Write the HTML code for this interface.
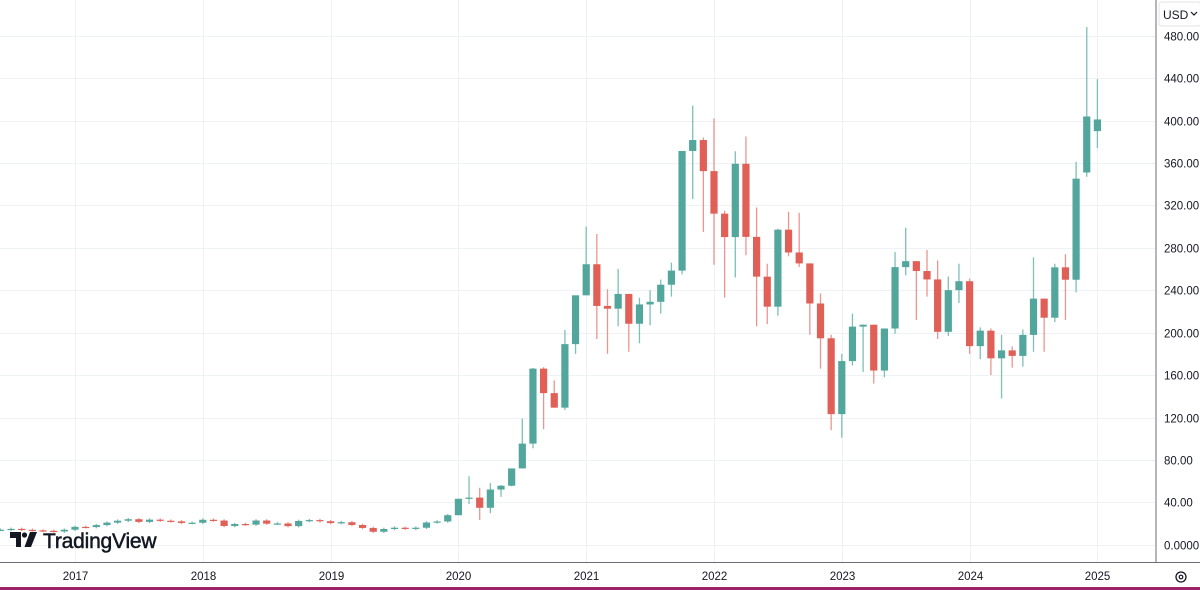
<!DOCTYPE html>
<html><head><meta charset="utf-8"><style>
html,body{margin:0;padding:0;background:#fff;}
body{width:1200px;height:590px;overflow:hidden;font-family:"Liberation Sans",sans-serif;}
svg{display:block}
</style></head><body>
<svg id="c" width="1200" height="590" xmlns="http://www.w3.org/2000/svg" font-family="Liberation Sans, sans-serif">
<rect width="1200" height="590" fill="#fff"/>
<g id="grid"></g>
<g id="candles"></g>
<line x1="1156" y1="0" x2="1156" y2="562" stroke="#6a6d78" stroke-width="1"/>
<line x1="0" y1="562.5" x2="1200" y2="562.5" stroke="#6a6d78" stroke-width="1"/>
<g id="labels" font-size="11.5" fill="#131722"></g>
<rect x="1159" y="2" width="42" height="24" rx="3" fill="#fff" stroke="#e0e3eb"/>
<text x="1163" y="19" font-size="12" fill="#131722">USD</text>
<path d="M1191 12 l3 3 l3 -3" stroke="#131722" fill="none" stroke-width="1.2"/>
<circle cx="1181" cy="577" r="5" fill="none" stroke="#131722" stroke-width="1.3"/>
<circle cx="1181" cy="577" r="1.8" fill="none" stroke="#131722" stroke-width="1.2"/>
<g transform="translate(10,532)">
<path d="M0 0 h11 v15 h-5 v-9 h-6z" fill="#131722"/>
<circle cx="14.5" cy="3" r="2.6" fill="#131722"/>
<path d="M20 0 h7 l-6 15 h-6.5z" fill="#131722"/>
<text x="33" y="16" font-size="21" fill="#131722" stroke="#131722" stroke-width="0.5" letter-spacing="-0.2">TradingView</text>
</g>
<rect x="0" y="587" width="1200" height="3" fill="#9c2466"/>
</svg>
<script>
const NS="http://www.w3.org/2000/svg";
function el(t,a,p){const e=document.createElementNS(NS,t);for(const k in a)e.setAttribute(k,a[k]);if(p)p.appendChild(e);return e;}
const Y=v=>544.8-v*1.0607;
const grid=document.getElementById('grid'),lab=document.getElementById('labels');
for(let v=0;v<=480;v+=40){const y=Math.round(Y(v))+0.5;el('line',{x1:0,x2:1156,y1:y,y2:y,stroke:'#eef1f5','stroke-width':1},grid);
const t=el('text',{x:1164,y:y+4},lab);t.textContent=v==0?'0.0000':v.toFixed(2);}
const years=[2017,2018,2019,2020,2021,2022,2023,2024,2025];
years.forEach((yr,i)=>{const x=Math.round(75+i*127.8)+0.5;el('line',{x1:x,x2:x,y1:0,y2:562,stroke:'#eef1f5'},grid);
const t=el('text',{x:x,y:580,'text-anchor':'middle'},lab);t.textContent=yr;});
const closes=[14.2,15.0,14.1,13.6,13.2,12.6,14.2,
16.9,16.7,18.6,20.9,22.7,24.1,21.6,23.7,22.7,22.1,20.6,20.8,
23.6,22.9,17.7,19.6,19.0,22.9,19.9,20.1,17.6,22.5,23.3,22.2,
20.5,21.3,18.7,15.9,12.3,14.9,16.1,15.0,16.1,21.0,22.0,27.9,
43.4,44.5,34.9,52.1,55.7,72.0,95.4,166.1,143.0,129.3,189.2,235.2,
264.5,225.2,222.6,236.5,208.4,226.6,229.1,245.2,258.5,371.3,381.6,352.3,
312.2,290.1,359.2,290.3,252.8,224.5,297.1,275.6,265.3,227.5,194.7,123.2,
173.2,205.7,207.5,164.3,203.9,261.8,267.4,258.1,250.2,200.8,240.1,248.5,
187.3,201.9,175.8,183.3,178.1,197.9,232.1,214.1,261.6,249.9,345.2,403.8,401.0];
const hl={
"2020":[[43.5,28.1],[64.6,38.4],[53.8,23.4],[58.2,29.8],[56.4,45.2],[72.0,55.0],[119,74],[166.7,91],[167.5,109],[155,134],[202.6,127],[231.7,180]],
"2021":[[300,239],[293,194],[241,180],[260,206],[236,182],[233,190],[240,207],[250,218],[266,234],[371,255],[414,326],[384,295]],
"2022":[[402,264],[315,233],[371,252],[385,273],[318,206],[265,208],[298,216],[314,272],[313,262],[257,198],[237,166],[198,108]],
"2023":[[180,101],[218,169],[207.8,163],[202.7,152],[204,158],[276,199],[299,254],[266,212],[278,234],[268,194],[253,197],[265,228]],
"2024":[[251,180],[205,175],[204,160],[198,138],[187,167],[203,168],[271,182],[232,182],[265,210],[274,212],[361,238],[488,347]],
"2025":[[439,374]]};
const hlArr=[].concat(hl["2020"],hl["2021"],hl["2022"],hl["2023"],hl["2024"],hl["2025"]);
const cg=document.getElementById('candles');
let prev=14.0;
closes.forEach((c,i)=>{
 const m=i-7;
 const x=75+m*127.8/12;
 let o=prev; if(i==closes.length-1)o=390;
 if(i==closes.length-2)o=351;
 if(o==c)o=c+0.3;
 let h,l;const k=i-43;
 if(k>=0&&hlArr[k]){h=hlArr[k][0];l=hlArr[k][1];}else{h=Math.max(o,c)+1.2;l=Math.min(o,c)-1.2;}
 h=Math.max(h,o,c);l=Math.min(l,o,c);
 const up=c>=o;const col=up?'#52a69b':'#e05f56';const wc=up?'#7cc0b6':'#ec9590';
 el('line',{x1:x,x2:x,y1:Y(h),y2:Y(l),stroke:wc,'stroke-width':1.3},cg);
 const y1=Y(Math.max(o,c)),y2=Y(Math.min(o,c));
 el('rect',{x:x-3.6,y:y1,width:7.2,height:Math.max(1.2,y2-y1),fill:col},cg);
 prev=c;
});
</script>
</body></html>
